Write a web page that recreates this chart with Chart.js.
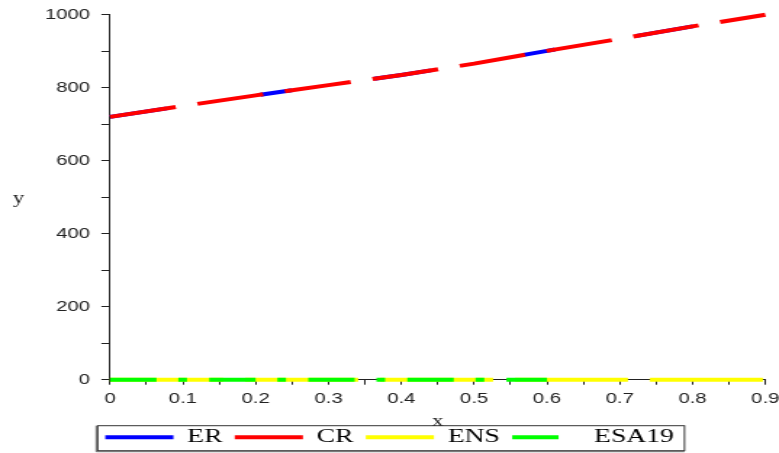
<!DOCTYPE html>
<html>
<head>
<meta charset="utf-8">
<script src="https://cdn.jsdelivr.net/npm/chart.js@4"></script>
<style>
html, body { margin: 0; padding: 0; background: #fff; overflow: hidden; }
#wrap { width: 537px; height: 453px; transform: scaleX(1.4506); transform-origin: 0 0; }
</style>
</head>
<body>
<div id="wrap"><canvas id="myChart"></canvas></div>
<script>
// values
let xValues = [0, 0.1, 0.2, 0.3, 0.4, 0.5, 0.6, 0.7, 0.8, 0.9];
let erValues = [720, 750, 779, 807, 835, 866, 901, 934, 968, 1000];
let crValues = [720, 750, 779, 807, 835, 866, 901, 934, 968, 1000];
let ensValues = [0, 0, 0, 0, 0, 0, 0, 0, 0, 0];
let esa19Values = [0, 0, 0, 0, 0, 0, 0];

function toPoints(values) {
    let pts = [];
    for (let i = 0; i < values.length; i++) {
        pts.push({ x: xValues[i], y: values[i] });
    }
    return pts;
}

// legend frame and the flat "y" label
const extras = {
    id: 'extras',
    afterDraw(chart) {
        const ctx = chart.ctx;
        const boxes = chart.legend.legendHitBoxes;
        const first = boxes[0];
        const last = boxes[boxes.length - 1];
        const left = first.left - 5.2;
        const right = last.left + last.width + 7.4;
        const cy = first.top + 9.5;
        const top = cy - 11.6;
        const bottom = cy + 13.4;
        ctx.save();
        ctx.strokeStyle = '#333';
        ctx.lineWidth = 1;
        ctx.strokeRect(left, top, right - left, bottom - top);
        ctx.strokeStyle = '#666';
        ctx.beginPath();
        ctx.moveTo(left - 1, top);
        ctx.lineTo(left - 1, bottom + 1);
        ctx.lineTo(right, bottom + 1);
        ctx.stroke();

        ctx.fillStyle = '#222';
        ctx.font = '16px "Liberation Serif"';
        ctx.textAlign = 'center';
        ctx.textBaseline = 'alphabetic';
        ctx.fillText('y', 12.8, 203);
        ctx.restore();
    }
};

const ctx = document.getElementById('myChart').getContext('2d');
new Chart(ctx, {
    type: 'line',
    data: {
        datasets: [{
            label: 'ER',
            data: toPoints(erValues),
            borderColor: '#0000ff',
            borderWidth: 4,
            borderDash: [40, 66, 22, 58],
            clip: false,
            order: 4
        }, {
            label: 'CR',
            data: toPoints(crValues),
            borderColor: '#ff0000',
            borderWidth: 4,
            borderDash: [46.3, 15.3],
            clip: false,
            order: 2
        }, {
            label: 'ENS',
            data: toPoints(ensValues),
            borderColor: '#ffff00',
            borderWidth: 4,
            borderDash: [78, 15],
            clip: false,
            order: 3
        }, {
            label: 'ESA19',
            data: toPoints(esa19Values),
            borderColor: '#00ff00',
            borderWidth: 4,
            borderDash: [32, 15, 6, 15.3],
            clip: false,
            order: 1
        }]
    },
    options: {
        responsive: true,
        maintainAspectRatio: false,
        animation: false,
        elements: {
            point: { radius: 0 },
            line: { tension: 0, fill: false }
        },
        layout: {
            padding: { top: 14.7, left: 0, right: 0, bottom: -3.8 }
        },
        plugins: {
            tooltip: { enabled: false },
            legend: {
                position: 'bottom',
                labels: {
                    usePointStyle: true,
                    pointStyleWidth: 47,
                    padding: 8.5,
                    color: '#000',
                    font: { family: '"Liberation Serif"', size: 19 },
                    generateLabels: function (chart) {
                        return chart.data.datasets.map(function (ds, i) {
                            return {
                                text: ds.label,
                                strokeStyle: ds.borderColor,
                                fillStyle: ds.borderColor,
                                lineWidth: 4,
                                lineDash: i === 3 ? ds.borderDash : [],
                                pointStyle: 'line',
                                datasetIndex: i,
                                hidden: false
                            };
                        });
                    }
                }
            }
        },
        scales: {
            x: {
                type: 'linear',
                min: 0,
                max: 0.9,
                afterFit: function (scale) {
                    scale.height = 39.6;
                    scale.paddingLeft = 0;
                    scale.paddingRight = 9.4;
                },
                border: { display: true, color: '#222', width: 1 },
                grid: { drawOnChartArea: false, drawTicks: true, tickLength: 5, tickColor: '#222' },
                ticks: {
                    stepSize: 0.05,
                    autoSkip: false,
                    maxRotation: 0,
                    padding: 6,
                    color: '#222',
                    font: { family: '"Liberation Sans"', size: 14 },
                    callback: function (v) {
                        let n = Math.round(v * 100);
                        if (n % 10 !== 0) return '';
                        return n === 0 ? '0' : (n / 100).toFixed(1);
                    }
                },
                title: {
                    display: true,
                    text: 'x',
                    color: '#222',
                    font: { family: '"Liberation Serif"', size: 16, lineHeight: 1 },
                    padding: { top: 0, bottom: -10 }
                }
            },
            y: {
                min: 0,
                max: 1000,
                afterFit: function (scale) {
                    scale.width = 75.9;
                    scale.paddingTop = 0;
                    scale.paddingBottom = 0;
                },
                border: { display: true, color: '#222', width: 1 },
                grid: { drawOnChartArea: false, drawTicks: true, tickLength: 6, tickColor: '#222' },
                ticks: {
                    stepSize: 100,
                    autoSkip: false,
                    padding: 7.8,
                    color: '#222',
                    font: { family: '"Liberation Sans"', size: 14 },
                    callback: function (v) {
                        return v % 200 === 0 ? String(v) : '';
                    }
                }
            }
        }
    },
    plugins: [extras]
});
</script>
</body>
</html>
